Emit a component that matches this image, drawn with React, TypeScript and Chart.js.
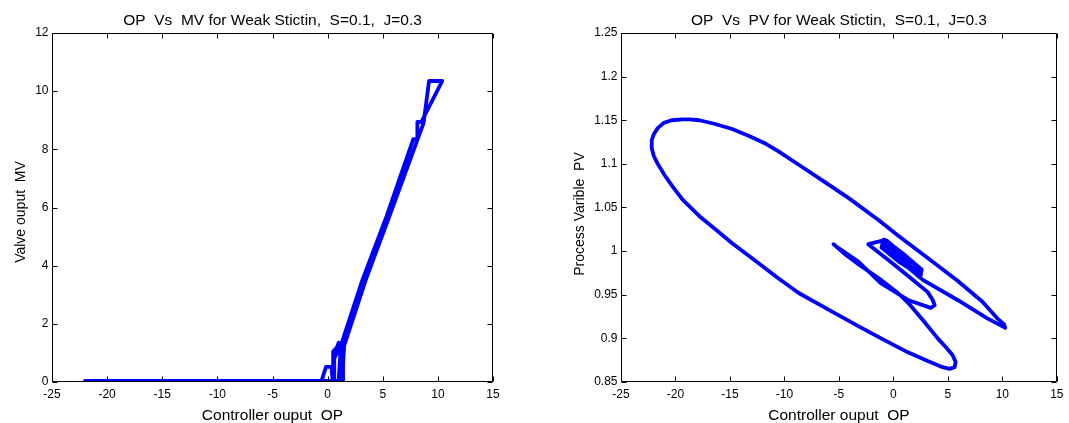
import React, { useEffect, useRef } from "react";
import { Chart, registerables } from "chart.js";

Chart.register(...registerables);

// ---------- data ----------
const xTickValues = [-25, -20, -15, -10, -5, 0, 5, 10, 15];
const leftYTickValues = [0, 2, 4, 6, 8, 10, 12];
const rightYTickValues = [0.85, 0.9, 0.95, 1, 1.05, 1.1, 1.15, 1.2, 1.25];

// Left: Controller output OP vs Valve output MV
const leftOP = [
  0.45, 0.55, 1.0, 1.15, 1.1, 0.6, 0.6, 1.05, 1.2, 1.2,
  1.0, 1.2, 3.15, 5.35, 7.77, 8.14, 8.14, 8.5, 10.4,
  9.2, 8.7, 5.6, 3.45, 1.5, 1.35, 1.3,
  -22.0, -0.55, -0.15, 0.35, 0.45, 0.5, 0.5, 1.1, 1.4, 1.4, 1.0,
];
const leftMV = [
  0.04, 0.9, 1.35, 1.3, 0.04, 0.04, 0.8, 1.2, 1.15, 0.04,
  0.04, 1.25, 3.5, 5.7, 8.35, 8.35, 8.94, 8.94, 10.35,
  10.35, 8.9, 5.7, 3.5, 1.25, 0.3, 0.04,
  0.04, 0.04, 0.52, 0.52, 0.04, 0.04, 1.05, 1.3, 1.3, 0.04, 0.04,
];

// Right: Controller output OP vs Process variable PV
const rightOP = [
  0.5, 2.7, 5.89, 8.62, 9.99, 10.26, 10.17,
  9.53, 8.17, 5.89, 3.15, 0.42, -1.4, -4.13, -6.87, -8.69, -10.51, -11.7, -13.25, -14.8,
  -16.44, -17.8, -18.71, -19.35, -20.35, -21.08, -21.63, -21.99, -22.18,
  -22.18, -21.99, -21.63, -20.99, -20.26, -19.35, -17.8, -16.34, -14.8, -12.79, -10.69,
  -8.69, -5.96, -3.22, -1.13, 1.33, 3.15, 4.52, 5.16, 5.62, 5.71, 5.43,
  4.8, 4.07, 2.7, 1.33, 0.42, -1.13, -3.22, -4.59, -5.32, -5.5,
  -5.2, -3.22, -1.13, 1.33, 3.43, 3.79, 3.61, 3.15, 1.61, -0.49, -2.31,
  -1.0, 0.9, 2.6, 2.5, 0.6, -1.1,
  -0.9, 0.9, 2.5, 2.4, 0.6, -1.0,
  -0.8, 1.0, 2.4, 2.3, 0.6, -0.8,
  -0.6, 1.0, 2.2, 2.1, 0.6, -0.5,
  0.0, 1.6, 1.5, 0.3,
];
const rightPV = [
  0.99, 0.967, 0.944, 0.923, 0.914, 0.912, 0.916,
  0.923, 0.942, 0.966, 0.992, 1.018, 1.036, 1.061, 1.084, 1.099, 1.114, 1.123, 1.132, 1.14,
  1.146, 1.15, 1.151, 1.151, 1.15, 1.147, 1.141, 1.134, 1.127,
  1.118, 1.109, 1.1, 1.087, 1.074, 1.059, 1.04, 1.025, 1.009, 0.99, 0.97,
  0.952, 0.933, 0.914, 0.9, 0.884, 0.874, 0.867, 0.865, 0.867, 0.873, 0.881,
  0.89, 0.9, 0.921, 0.941, 0.952, 0.967, 0.985, 0.998, 1.006, 1.008,
  1.005, 0.988, 0.963, 0.944, 0.935, 0.938, 0.944, 0.953, 0.969, 0.99, 1.008,
  1.012, 0.996, 0.979, 0.972, 0.987, 1.004,
  1.013, 0.997, 0.98, 0.974, 0.989, 1.006,
  1.013, 0.996, 0.981, 0.976, 0.99, 1.007,
  1.012, 0.995, 0.982, 0.978, 0.991, 1.006,
  1.004, 0.988, 0.985, 0.996,
];

const FONT = "'Liberation Sans', Arial, Helvetica, sans-serif";

type Cfg = {
  width: number;
  plotLeft: number;
  plotRight: number;
  plotTop: number;
  plotBottom: number;
  xs: number[];
  ys: number[];
  yTicks: number[];
  yMin: number;
  yMax: number;
  title: string;
  xTitle: string;
  yTitle: string;
  yTitleX: number;
  yTitleY: number;
  lineWidth: number;
};

const H = 423;

function makeChart(canvas: HTMLCanvasElement, c: Cfg) {
  const data = c.xs.map((x, i) => ({ x, y: c.ys[i] }));
  const deco = {
    id: "matlabDeco",
    afterDraw(chart: any) {
      const ctx = chart.ctx as CanvasRenderingContext2D;
      const a = chart.chartArea;
      const xs = chart.scales.x;
      const ys = chart.scales.y;
      ctx.save();
      ctx.strokeStyle = "#000";
      ctx.lineWidth = 1;
      const L = Math.round(a.left) + 0.5;
      const R = Math.round(a.right) - 0.5;
      const T = Math.round(a.top) + 0.5;
      const B = Math.round(a.bottom) - 0.5;
      ctx.beginPath();
      ctx.rect(L, T, R - L, B - T);
      ctx.stroke();
      const tl = 5;
      ctx.beginPath();
      for (const v of xTickValues) {
        const px = Math.round(xs.getPixelForValue(v)) + 0.5;
        ctx.moveTo(px, B);
        ctx.lineTo(px, B - tl);
        ctx.moveTo(px, T);
        ctx.lineTo(px, T + tl);
      }
      for (const v of c.yTicks) {
        const py = Math.round(ys.getPixelForValue(v)) + 0.5;
        ctx.moveTo(L, py);
        ctx.lineTo(L + tl, py);
        ctx.moveTo(R, py);
        ctx.lineTo(R - tl, py);
      }
      ctx.stroke();
      ctx.fillStyle = "#000";
      ctx.textAlign = "center";
      ctx.textBaseline = "alphabetic";
      ctx.font = `15.5px ${FONT}`;
      const cx = (a.left + a.right) / 2;
      ctx.fillText(c.title, cx, 25);
      ctx.fillText(c.xTitle, cx, 420);
      ctx.font = `14px ${FONT}`;
      ctx.translate(c.yTitleX, c.yTitleY);
      ctx.rotate(-Math.PI / 2);
      ctx.fillText(c.yTitle, 0, 0);
      ctx.restore();
    },
  };

  return new Chart(canvas, {
    type: "scatter",
    data: {
      datasets: [
        {
          data,
          showLine: true,
          borderColor: "#0000ff",
          backgroundColor: "#0000ff",
          borderWidth: c.lineWidth,
          pointRadius: 0,
          pointHoverRadius: 0,
          tension: 0,
          borderJoinStyle: "round",
          borderCapStyle: "round",
          fill: false,
        } as any,
      ],
    },
    options: {
      animation: false,
      responsive: false,
      maintainAspectRatio: false,
      events: [],
      layout: {
        padding: { left: 0, top: c.plotTop, right: c.width - c.plotRight, bottom: 0 },
      },
      plugins: {
        legend: { display: false },
        title: { display: false },
        tooltip: { enabled: false },
      },
      scales: {
        x: {
          type: "linear",
          min: -25,
          max: 15,
          afterFit: (s: any) => {
            s.height = H - c.plotBottom;
          },
          afterBuildTicks: (s: any) => {
            s.ticks = xTickValues.map((v) => ({ value: v }));
          },
          grid: { display: false, drawTicks: false },
          border: { display: false },
          ticks: {
            padding: 5.5,
            color: "#000",
            font: { family: FONT, size: 12 },
            maxRotation: 0,
            autoSkip: false,
            callback: (v: any) => String(v),
          },
        },
        y: {
          type: "linear",
          min: c.yMin,
          max: c.yMax,
          afterFit: (s: any) => {
            s.width = c.plotLeft;
          },
          afterBuildTicks: (s: any) => {
            s.ticks = c.yTicks.map((v) => ({ value: v }));
          },
          grid: { display: false, drawTicks: false },
          border: { display: false },
          ticks: {
            padding: 3.5,
            color: "#000",
            font: { family: FONT, size: 12 },
            autoSkip: false,
            callback: (v: any) => String(Number(Number(v).toFixed(2))),
          },
        },
      },
    },
    plugins: [deco],
  } as any);
}

function Panel({ cfg, left }: { cfg: Cfg; left: number }) {
  const ref = useRef<HTMLCanvasElement | null>(null);
  useEffect(() => {
    if (!ref.current) return;
    const ch = makeChart(ref.current, cfg);
    return () => ch.destroy();
  }, []);
  return (
    <canvas
      ref={ref}
      width={cfg.width}
      height={H}
      style={{ position: "absolute", left, top: 0, width: cfg.width, height: H, display: "block" }}
    />
  );
}

const leftCfg: Cfg = {
  width: 540,
  plotLeft: 52,
  plotRight: 493,
  plotTop: 33,
  plotBottom: 382,
  xs: leftOP,
  ys: leftMV,
  yTicks: leftYTickValues,
  yMin: 0,
  yMax: 12,
  title: "OP  Vs  MV for Weak Stictin,  S=0.1,  J=0.3",
  xTitle: "Controller ouput  OP",
  yTitle: "Valve ouput  MV",
  yTitleX: 24.5,
  yTitleY: 212,
  lineWidth: 3.8,
};

const rightCfg: Cfg = {
  width: 529,
  plotLeft: 81,
  plotRight: 520,
  plotTop: 33,
  plotBottom: 382,
  xs: rightOP,
  ys: rightPV,
  yTicks: rightYTickValues,
  yMin: 0.85,
  yMax: 1.25,
  title: "OP  Vs  PV for Weak Stictin,  S=0.1,  J=0.3",
  xTitle: "Controller ouput  OP",
  yTitle: "Process Varible  PV",
  yTitleX: 44,
  yTitleY: 214,
  lineWidth: 3.8,
};

export default function App() {
  return (
    <div style={{ position: "absolute", left: 0, top: 0, width: 1069, height: H, background: "#fff" }}>
      <Panel cfg={leftCfg} left={0} />
      <Panel cfg={rightCfg} left={540} />
    </div>
  );
}
